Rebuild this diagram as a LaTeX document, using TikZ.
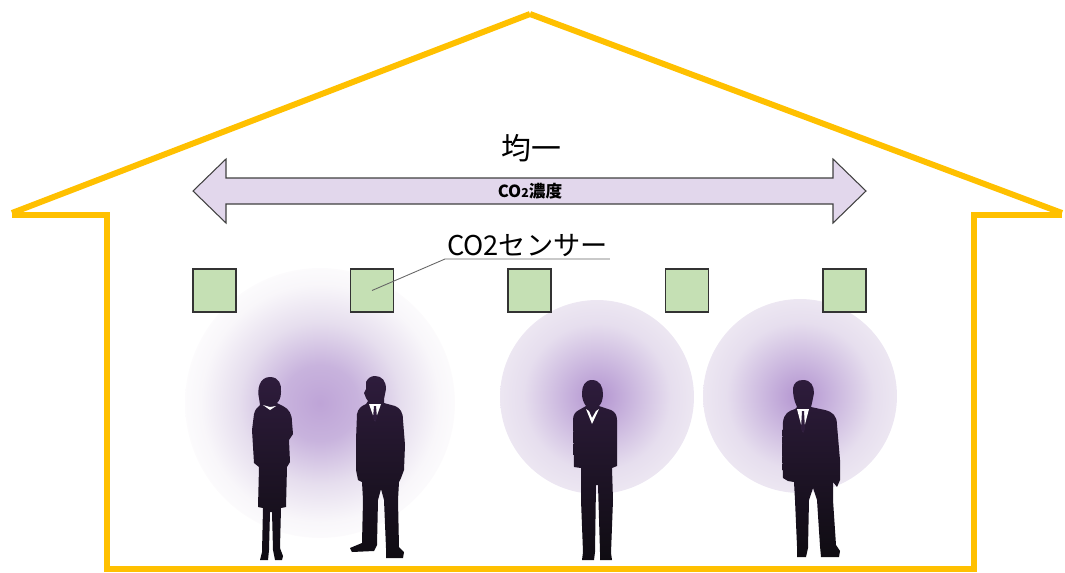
\documentclass[tikz,border=0pt]{standalone}
\usepackage{fontspec}
\newfontfamily\jp{Noto Sans CJK JP}
\definecolor{roof}{HTML}{FFC000}
\definecolor{sensorfill}{HTML}{C5E0B4}
\definecolor{bandfill}{HTML}{E2D7EC}
\definecolor{figtop}{HTML}{2E1C3C}
\definecolor{figbot}{HTML}{0F0C12}
\definecolor{glowcore}{HTML}{B394D0}
\definecolor{glowmid}{HTML}{C8B3DD}
\definecolor{glowpale}{HTML}{E6DEEE}
\definecolor{glowfaint}{HTML}{F2EEF5}
\definecolor{glowedge}{HTML}{F5F3F7}

% soft CO2 cloud round each person
\pgfdeclareradialshading{roomglow}{\pgfpoint{0bp}{0bp}}{color(0bp)=(glowcore); color(8bp)=(glowmid); color(19bp)=(glowpale); color(30bp)=(glowfaint); color(50bp)=(glowedge)}
\pgfdeclareradialshading{pairglow}{\pgfpoint{0bp}{0bp}}{color(0bp)=(glowcore!85!white); color(7bp)=(glowmid); color(15bp)=(glowpale); color(22bp)=(glowfaint!50!white); color(28bp)=(white); color(50bp)=(white)}

\begin{document}
\begin{tikzpicture}[
    x=0.02cm, y=-0.02cm,
    wall/.style={draw=roof, line width=3.4pt},
    sensor/.style={draw=black!80, fill=sensorfill, line width=0.9pt,
                   minimum size=0.86cm, inner sep=0pt},
    person/.style={top color=figtop, bottom color=figbot},
    shirt/.style={fill=white},
]
    \useasboundingbox (0,0) rectangle (1065,572);

    % glows
    \shade[shading=pairglow] (320,403) circle[radius=2.7cm];
    \shade[shading=roomglow] (597,397) circle[radius=1.94cm];
    \shade[shading=roomglow] (800,396) circle[radius=1.94cm];

    % house
    \draw[wall] (12,213) -- (530,14);
    \draw[wall] (530,14) -- (1062,213);
    \draw[wall] (12,215) -- (107,215) -- (107,569) -- (974,569) -- (974,215) -- (1062,215);

    % concentration band
    \node[font=\jp\fontsize{17}{19}\selectfont] (even) at (531,148) {均一};
    \filldraw[fill=bandfill, draw=black!75, line width=0.6pt]
        (193,191) -- (226,159) -- (226,178) -- (833,178) -- (833,159) -- (866,191)
        -- (833,223) -- (833,204) -- (226,204) -- (226,223) -- cycle;
    \node[font=\jp\bfseries\fontsize{9.5}{10}\selectfont, inner sep=0pt] (conc) at (530,191)
        {CO{\fontsize{7}{8}\selectfont 2}濃度};

    % sensors
    \foreach \i/\px in {1/214.5, 2/372, 3/529.5, 4/687, 5/844.5}
        \node[sensor] (s\i) at (\px,290.5) {};

    \node[font=\jp\fontsize{15.5}{17}\selectfont, anchor=south west, inner sep=1pt] (lbl) at (445,259) {CO2センサー};
    \draw[black!60, line width=0.5pt] (s2.center) -- (lbl.south west) -- (lbl.south east);

    % people
    \shade[person] (270,377) .. controls (279,377) and (282,385) .. (281,392)
        .. controls (281,398) and (279,401) .. (277,403)
        -- (283,406) .. controls (289,409) and (292,414) .. (292,422)
        -- (293,434) -- (289,440) -- (290,462) -- (287,467)
        -- (286,507) -- (281,508) -- (280,548) -- (283,556) -- (282,560) -- (275,560) -- (273,550)
        -- (272,512) -- (270,512) -- (269,550) -- (268,560) -- (260,560) -- (262,552) -- (263,508)
        -- (258,507) -- (259,467) -- (254,463) -- (252,430) -- (254,414)
        .. controls (255,409) and (258,407) .. (260,405)
        -- (259,398) .. controls (257,390) and (259,377) .. (270,377) -- cycle;
    \fill[shirt] (263,405) -- (270,410) -- (276,406) -- (270,407) -- cycle;

    \shade[person] (375,376) .. controls (382,376) and (386,381) .. (386,389)
        -- (384,399) -- (384,403) -- (395,406) .. controls (400,408) and (403,412) .. (403,420)
        -- (405,445) -- (404,470) -- (401,478) -- (399,482)
        -- (398,500) -- (399,547) -- (404,552) -- (403,558) -- (386,558) -- (386,548)
        -- (384,500) -- (381,489) -- (378,500) -- (377,545) -- (374,551) -- (352,552) -- (350,548) -- (362,543)
        -- (363,500) -- (362,482) -- (358,480) -- (356,470) -- (356,440) -- (357,414)
        .. controls (358,409) and (361,406) .. (366,404)
        -- (368,401) -- (366,398) -- (364,393) -- (366,389) -- (366,382)
        .. controls (368,378) and (371,376) .. (375,376) -- cycle;
    \fill[shirt] (369,404) -- (381,404) -- (375,421) -- cycle;
    \fill[figtop] (374,406) -- (376,406) -- (377,418) -- (375,422) -- (373,418) -- cycle;

    \shade[person] (592,380) .. controls (600,380) and (603,387) .. (603,394)
        .. controls (603,400) and (601,404) .. (599,406)
        -- (611,410) .. controls (615,412) and (617,415) .. (617,420)
        -- (617,466) -- (612,468) -- (613,500) -- (611,553) -- (612,560) -- (600,560) -- (600,552)
        -- (598,485) -- (596,485) -- (595,552) -- (594,560) -- (582,560) -- (583,552)
        -- (581,500) -- (581,468) -- (574,467) -- (573,420)
        .. controls (573,415) and (575,412) .. (579,410)
        -- (586,406) .. controls (583,402) and (582,398) .. (582,393)
        .. controls (582,386) and (585,380) .. (592,380) -- cycle;
    \fill[shirt] (586,409) -- (592,424) -- (599,409) -- (596,411) -- (592,418) -- (589,411) -- cycle;

    \shade[person] (803,380) .. controls (811,380) and (814,386) .. (814,393)
        -- (812,403) -- (811,407) -- (825,410) .. controls (833,412) and (837,416) .. (837,425)
        -- (840,460) -- (840,480) -- (837,487) -- (833,482) -- (833,500) -- (836,545) -- (840,551)
        -- (839,557) -- (821,557) -- (820,546)
        -- (817,500) -- (813,488) -- (809,500) -- (808,548) -- (806,557) -- (797,557) -- (797,546)
        -- (795,500) -- (794,482) -- (788,481) -- (783,478) -- (782,450) -- (783,422)
        .. controls (784,414) and (788,411) .. (795,409) -- (797,407) -- (795,402)
        .. controls (793,396) and (793,391) .. (793,388)
        .. controls (794,383) and (797,380) .. (803,380) -- cycle;
    \fill[shirt] (797,409) -- (809,409) -- (803,432) -- cycle;
    \fill[figtop] (802,411) -- (804,411) -- (805,429) -- (803,433) -- (801,429) -- cycle;
\end{tikzpicture}
\end{document}
